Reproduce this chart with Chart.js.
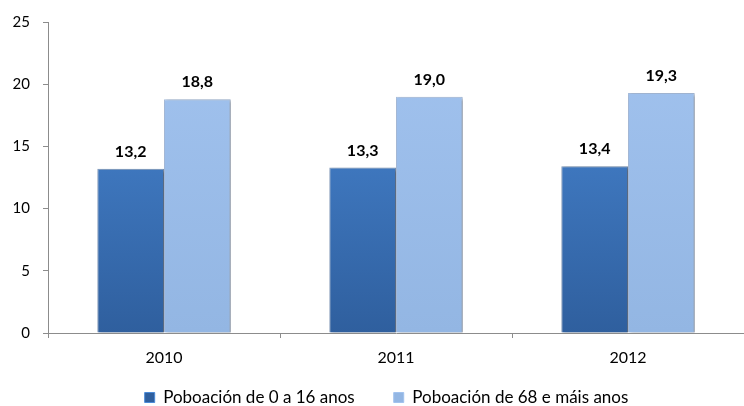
<!DOCTYPE html>
<html><head><meta charset="utf-8">
<script src="https://cdn.jsdelivr.net/npm/chart.js@4/dist/chart.umd.min.js"></script>
<style>html,body{margin:0;padding:0;background:#fff}#w{width:744px;height:406px}</style>
</head><body><div id="w"><canvas id="c"></canvas></div>
<script>
const categories = ['2010', '2011', '2012'];
const seriesNames = ['Poboación de 0 a 16 anos', 'Poboación de 68 e máis anos'];
const young = [13.2, 13.3, 13.4];
const old = [18.8, 19.0, 19.3];
const yTicks = [0, 5, 10, 15, 20, 25];

const FONT = 'Lato, "Open Sans", sans-serif';
const COLS = [['#4b8bd9', '#2f5f9e'], ['#a2c3ef', '#93b6e3']];

function grad(ctx, area, c1, c2) {
  if (!area) return c1;
  const g = ctx.createLinearGradient(0, area.top, 0, area.bottom);
  g.addColorStop(0, c1); g.addColorStop(1, c2);
  return g;
}

const labelPlugin = {
  id: 'vals',
  afterDatasetsDraw(chart) {
    const ctx = chart.ctx;
    ctx.save();
    ctx.font = 'bold 16px ' + FONT;
    ctx.fillStyle = '#000';
    ctx.textAlign = 'center';
    ctx.textBaseline = 'middle';
    chart.data.datasets.forEach((ds, i) => {
      chart.getDatasetMeta(i).data.forEach((bar, j) => {
        ctx.fillText(ds.data[j].toFixed(1).replace('.', ','), bar.x, bar.y - 17);
      });
    });
    ctx.restore();
  }
};

const shadowPlugin = {
  id: 'shadow',
  beforeDatasetsDraw(chart) { const c = chart.ctx; c.save(); c.shadowColor = 'rgba(0,0,0,0.35)'; c.shadowOffsetX = 2; c.shadowOffsetY = 1; c.shadowBlur = 3; },
  afterDatasetsDraw(chart) { chart.ctx.restore(); }
};

const layoutTweak = {
  id: 'layoutTweak',
  afterLayout(chart) {
    if (chart.legend) { chart.legend.left += 12; chart.legend.right += 12; }
    const x = chart.scales.x;
    if (x) { x.bottom = x.top + 45; }
  }
};

new Chart(document.getElementById('c'), {
  type: 'bar',
  data: {
    labels: categories,
    datasets: [
      { label: seriesNames[0], data: young,
        backgroundColor: c => grad(c.chart.ctx, c.chart.chartArea, COLS[0][0], COLS[0][1]),
        borderColor: 'rgba(40,80,135,0.6)', borderWidth: 1 },
      { label: seriesNames[1], data: old,
        backgroundColor: c => grad(c.chart.ctx, c.chart.chartArea, COLS[1][0], COLS[1][1]),
        borderColor: 'rgba(110,145,195,0.6)', borderWidth: 1 }
    ]
  },
  options: {
    responsive: true, maintainAspectRatio: false, animation: false,
    layout: { padding: { left: 0, right: -5, top: 22, bottom: -10 } },
    datasets: { bar: { categoryPercentage: 0.575, barPercentage: 1.0 } },
    plugins: {
      legend: { position: 'bottom', labels: { font: { family: FONT, size: 17 }, color: '#000', boxWidth: 10, boxHeight: 10, padding: 39,
        generateLabels(chart) {
          return chart.data.datasets.map((d, i) => ({ text: d.label, fillStyle: COLS[i][1], strokeStyle: COLS[i][0], lineWidth: 1, datasetIndex: i, fontColor: '#000' }));
        } } },
      tooltip: { enabled: false }
    },
    scales: {
      x: {
        afterFit(s) { s.height = 17; },
        grid: { drawOnChartArea: false, color: '#8c8c8c', tickLength: 5 },
        border: { color: '#8c8c8c' },
        ticks: { font: { family: FONT, size: 16 }, color: '#000', padding: 10 }
      },
      y: {
        min: 0, max: 25,
        afterFit(s) { s.width = 48; },
        afterBuildTicks(s) { s.ticks = yTicks.map(v => ({ value: v })); },
        grid: { drawOnChartArea: false, color: '#8c8c8c', tickLength: 5 },
        border: { color: '#8c8c8c' },
        ticks: { font: { family: FONT, size: 15 }, color: '#000', padding: 13 }
      }
    }
  },
  plugins: [shadowPlugin, labelPlugin, layoutTweak]
});
</script></body></html>
